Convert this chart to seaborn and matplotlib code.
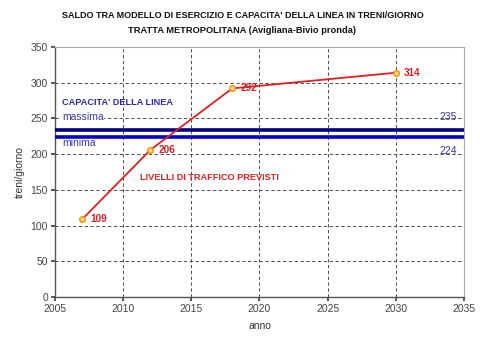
import matplotlib
matplotlib.use("Agg")
import matplotlib.pyplot as plt
import seaborn as sns
import pandas as pd

anni = [2007, 2012, 2018, 2030]
treni = [109, 206, 292, 314]
cap_max = 234
cap_min = 224
cap_max_label = "235"
cap_min_label = "224"
x_ticks = [2005, 2010, 2015, 2020, 2025, 2030, 2035]
y_ticks = [0, 50, 100, 150, 200, 250, 300, 350]

sns.set_theme(style="white")
plt.rcParams['font.family'] = ['Liberation Sans', 'DejaVu Sans']

fig = plt.figure(figsize=(4.8, 3.42), dpi=100)
ax = fig.add_axes([0.1146, 0.1316, 0.852, 0.731])

df = pd.DataFrame({"anno": anni, "treni": treni})

ax.axhline(cap_max, color="#000080", lw=2.6, zorder=3)
ax.axhline(cap_min, color="#0000cc", lw=2.6, zorder=3)

sns.lineplot(data=df, x="anno", y="treni", ax=ax, color="#e02020", lw=1.3,
             marker="o", markersize=4, markerfacecolor="#ffe080",
             markeredgecolor="#ff8c00", markeredgewidth=1, zorder=4)

for x, y in zip(anni, treni):
    ax.text(x + 0.6, y, str(y), color="#d42020", fontsize=7.2, fontweight="bold",
            va="center", ha="left", zorder=5)

ax.set_xlim(2005, 2035)
ax.set_ylim(0, 350)
ax.set_xticks(x_ticks)
ax.set_yticks(y_ticks)
ax.tick_params(axis="both", labelsize=7.5, colors="#444444", length=3, direction="out",
               left=True, bottom=True, pad=2)
ax.grid(True, color="#333333", ls=(0, (4, 3)), lw=0.6)
ax.set_axisbelow(True)
for s in ["left", "bottom"]:
    ax.spines[s].set_color("#555555")
    ax.spines[s].set_linewidth(1.0)
for s in ["top", "right"]:
    ax.spines[s].set_color("#aaaaaa")
    ax.spines[s].set_linewidth(0.8)

ax.set_xlabel("anno", fontsize=7.5, color="#333333", labelpad=5)
ax.set_ylabel("treni/giorno", fontsize=7.5, color="#333333", labelpad=4)

ax.text(2005.5, 272, "CAPACITA' DELLA LINEA", color="#2a2aa8", fontsize=6.6,
        fontweight="bold", va="center", ha="left")
ax.text(2005.5, 252, "massima", color="#3a3ab0", fontsize=7.5, va="center", ha="left",
        bbox=dict(facecolor="white", edgecolor="none", pad=0.5))
ax.text(2005.5, 216, "minima", color="#3a3ab0", fontsize=7.5, va="center", ha="left")
ax.text(2033.2, 252, cap_max_label, color="#3a3ab0", fontsize=7.5, va="center", ha="left")
ax.text(2033.2, 204, cap_min_label, color="#3a3ab0", fontsize=7.5, va="center", ha="left")
ax.text(2011.2, 167, "LIVELLI DI TRAFFICO PREVISTI", color="#e02020", fontsize=6.6,
        fontweight="bold", va="center", ha="left")

fig.text(0.505, 0.955, "SALDO TRA MODELLO DI ESERCIZIO E CAPACITA' DELLA LINEA IN TRENI/GIORNO",
         ha="center", va="center", fontsize=6.5, fontweight="bold", color="#111111")
fig.text(0.505, 0.912, "TRATTA METROPOLITANA (Avigliana-Bivio pronda)",
         ha="center", va="center", fontsize=6.7, fontweight="bold", color="#111111")

fig.savefig("out.png", dpi=100)
